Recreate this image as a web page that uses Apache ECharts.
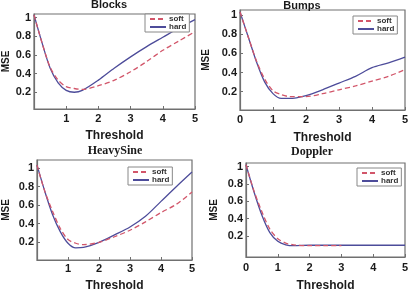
<!DOCTYPE html>
<html>
<head>
<meta charset="utf-8">
<style>
  html, body { margin: 0; padding: 0; background: #fff; }
  #chart { width: 413px; height: 293px; }
</style>
<script src="https://cdn.jsdelivr.net/npm/echarts@6/dist/echarts.min.js"></script>
</head>
<body>
<div id="chart"></div>
<script>
// ---- data ----
const thresholds = [0, 0.25, 0.5, 0.75, 1, 1.25, 1.5, 2, 2.5, 3, 3.5, 4, 4.5, 5];
const panelTitles = ['Blocks', 'Bumps', 'HeavySine', 'Doppler'];
const yTicks = [0.2, 0.4, 0.6, 0.8, 1];

const blocksSoft = [1.03, 0.73, 0.47, 0.33, 0.26, 0.24, 0.23, 0.27, 0.33, 0.42, 0.53, 0.65, 0.75, 0.85];
const blocksHard = [1.03, 0.73, 0.46, 0.30, 0.22, 0.20, 0.22, 0.33, 0.46, 0.58, 0.69, 0.79, 0.89, 0.98];
const bumpsSoft = [1.03, 0.77, 0.52, 0.33, 0.21, 0.17, 0.15, 0.15, 0.18, 0.22, 0.26, 0.31, 0.36, 0.43];
const bumpsHard = [1.03, 0.77, 0.51, 0.30, 0.18, 0.13, 0.13, 0.16, 0.22, 0.29, 0.36, 0.45, 0.50, 0.56];
const heavySoft = [1.03, 0.75, 0.535, 0.35, 0.23, 0.19, 0.175, 0.20, 0.26, 0.33, 0.42, 0.52, 0.61, 0.74];
const heavyHard = [1.03, 0.75, 0.50, 0.315, 0.19, 0.14, 0.145, 0.20, 0.28, 0.365, 0.48, 0.64, 0.80, 0.955];
const dopplerSoft = [1.02, 0.72, 0.48, 0.28, 0.17, 0.12, 0.10, 0.09, 0.09, 0.09, null, null, null, null];
const dopplerHard = [1.02, 0.71, 0.44, 0.24, 0.14, 0.10, 0.09, 0.095, 0.095, 0.095, 0.095, 0.095, 0.095, 0.095];

const softData = [blocksSoft, bumpsSoft, heavySoft, dopplerSoft];
const hardData = [blocksHard, bumpsHard, heavyHard, dopplerHard];

// ---- layout per panel ----
const P = [
  { grid: { left: 31, top: 14, width: 164, height: 95 }, y: [0.02, 1.04], showZero: false,
    title: [109, -1], serif: false, nameGap: 21, mseGap: 23, xMargin: 4, legend: { left: 145, top: 14 } },
  { grid: { left: 240, top: 10, width: 165, height: 100 }, y: [0.01, 1.05], showZero: true,
    title: [302, 0], serif: false, nameGap: 22, mseGap: 29, xMargin: 4, legend: { left: 353, top: 16 } },
  { grid: { left: 31, top: 160, width: 161, height: 101 }, y: [0.01, 1.085], showZero: false,
    title: [115, 145], serif: true, nameGap: 20, mseGap: 26, xMargin: 3, legend: { left: 128, top: 167 } },
  { grid: { left: 246, top: 163, width: 159, height: 103 }, y: [-0.04, 1.04], showZero: true,
    title: [312, 146], serif: true, nameGap: 23, mseGap: 27, xMargin: 5, legend: { left: 357, top: 168 } },
];

const C = { soft: '#d2566a', hard: '#4d4c9a', frame: '#707070', ink: '#1a1a1a' };
const SANS = "'Liberation Sans', Arial, sans-serif";
const SERIF = "'Liberation Serif', 'Times New Roman', serif";

const grid = [], xAxis = [], yAxis = [], series = [], legend = [], graphic = [];

P.forEach((p, i) => {
  grid.push(Object.assign({ show: true, borderColor: C.frame, borderWidth: 1.2, backgroundColor: '#fff' }, p.grid));
  xAxis.push({
    type: 'value', gridIndex: i, min: 0, max: 5, interval: 1,
    name: 'Threshold', nameLocation: 'middle', nameGap: p.nameGap,
    nameTextStyle: { fontFamily: SANS, fontWeight: 'bold', fontSize: 12, color: C.ink },
    axisLine: { show: true, onZero: false, lineStyle: { color: C.frame, width: 1.2 } },
    axisTick: { show: true, inside: true, length: 3, lineStyle: { color: C.frame } },
    axisLabel: { fontFamily: SANS, fontWeight: 'bold', fontSize: 11, color: C.ink, margin: p.xMargin, showMinLabel: p.showZero },
    splitLine: { show: false },
  });
  yAxis.push({
    type: 'value', gridIndex: i, min: p.y[0], max: p.y[1],
    name: 'MSE', nameLocation: 'middle', nameGap: p.mseGap, nameRotate: 90,
    nameTextStyle: { fontFamily: SANS, fontWeight: 'bold', fontSize: 10, color: C.ink },
    axisLine: { show: true, onZero: false, lineStyle: { color: C.frame, width: 1.2 } },
    axisTick: { show: true, inside: true, length: 3, customValues: yTicks, lineStyle: { color: C.frame } },
    axisLabel: { fontFamily: SANS, fontWeight: 'bold', fontSize: 11, color: C.ink, margin: 3, customValues: yTicks },
    splitLine: { show: false },
  });
  series.push({
    name: 'soft', type: 'line', xAxisIndex: i, yAxisIndex: i, smooth: 0.3, symbol: 'none',
    data: thresholds.map((t, k) => [t, softData[i][k]]).filter(d => d[1] !== null),
    lineStyle: { color: C.soft, width: 1.3, type: [5, 3] }, itemStyle: { color: C.soft }, z: 3,
  });
  series.push({
    name: 'hard', type: 'line', xAxisIndex: i, yAxisIndex: i, smooth: 0.3, symbol: 'none',
    data: thresholds.map((t, k) => [t, hardData[i][k]]),
    lineStyle: { color: C.hard, width: 1.3 }, itemStyle: { color: C.hard }, z: 2,
  });
  legend.push({
    data: ['soft', 'hard'], orient: 'vertical', left: p.legend.left, top: p.legend.top,
    itemWidth: 16, itemHeight: 6, itemGap: 0, padding: [1, 3, 1, 4],
    backgroundColor: '#fff', borderColor: '#888', borderWidth: 1, z: 10,
    itemStyle: { color: 'transparent', borderWidth: 0, borderColor: 'transparent' },
    textStyle: { fontFamily: SANS, fontSize: 8, fontWeight: 'bold', color: '#333', padding: [0, 0, 0, -2] },
  });
  graphic.push({
    type: 'text', x: p.title[0], y: p.title[1],
    style: {
      text: panelTitles[i], align: 'center', verticalAlign: 'top', fill: C.ink,
      font: 'bold ' + (p.serif ? '12px ' + SERIF : '11px ' + SANS),
    },
  });
});

const chart = echarts.init(document.getElementById('chart'), null, { renderer: 'canvas' });
chart.setOption({
  backgroundColor: '#fff',
  animation: false,
  grid, xAxis, yAxis, series, legend, graphic,
});
</script>
</body>
</html>
